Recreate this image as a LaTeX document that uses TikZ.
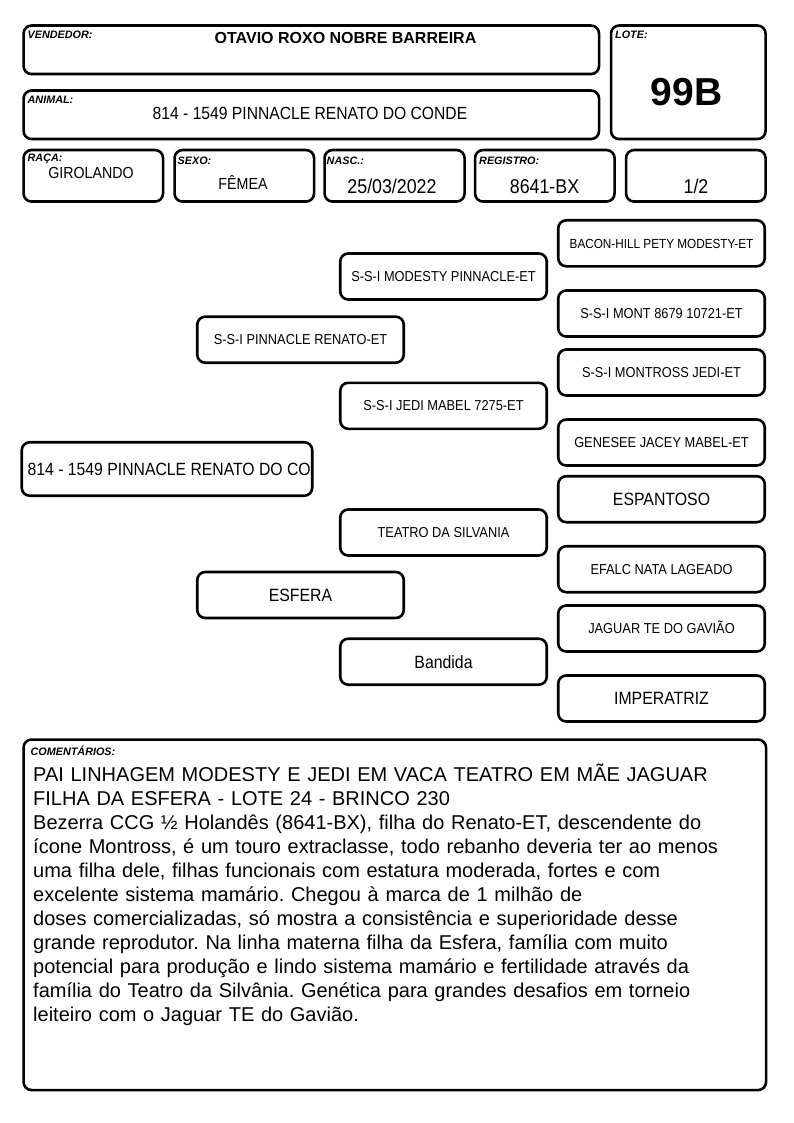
\documentclass[tikz,border=0pt]{standalone}
\usepackage{fontspec}
\setmainfont{Liberation Sans}
\newfontfamily\narrowfont[FakeStretch=0.89]{Liberation Sans}
\usepackage{xcolor}
\usepackage{tikz}
\usetikzlibrary{positioning}
\frenchspacing

\begin{document}
\begin{tikzpicture}[x=1pt, y=-1pt,
  box/.style={draw=black, line width=2.6pt, rounded corners=8pt,
    anchor=north west, inner sep=0pt},
  pedbox/.style={draw=black, line width=2.6pt, rounded corners=8pt,
    minimum width=206.5pt, minimum height=46pt, inner sep=0pt,
    align=center, text height=10.3pt, text depth=0pt,
    font=\narrowfont\fontsize{14.4}{16}\selectfont},
  bigped/.style={pedbox, text height=12.7pt,
    font=\narrowfont\fontsize{17.8}{20}\selectfont},
  lbl/.style={anchor=base west, inner sep=0pt,
    font=\fontsize{10.8}{12}\selectfont\bfseries\itshape},
  val/.style={anchor=base, inner sep=0pt,
    font=\narrowfont\fontsize{17.6}{20}\selectfont}
]
\useasboundingbox (0,0) rectangle (794,1123);

% header
\node[box, minimum width=575.5pt, minimum height=48.5pt] (vend) at (22.25,24.25) {};
\node[box, minimum width=154.5pt, minimum height=113.5pt] (lote) at (609.75,24.25) {};
\node[box, minimum width=575.5pt, minimum height=48.5pt] (animal) at (22.25,89.25) {};
\node[lbl] (vendlbl) at (27.5,39) {VENDEDOR:};
\node[anchor=base, inner sep=0pt, font=\fontsize{16}{18}\selectfont\bfseries]
  (vendname) at (345.5,43.3) {OTAVIO ROXO NOBRE BARREIRA};
\node[lbl] (lotelbl) at (615,38.7) {LOTE:};
\node[anchor=base, inner sep=0pt, font=\fontsize{39}{42}\selectfont\bfseries]
  (lotenum) at (686.7,105.3) {99B};
\node[lbl] (animallbl) at (27.5,104) {ANIMAL:};
\node[val] (animalname) at (310,119.3) {814 - 1549 PINNACLE RENATO DO CONDE};

% dados
\node[box, minimum width=139.5pt, minimum height=51.5pt] (raca) at (22.25,148.75) {};
\node[box, minimum width=139.5pt, minimum height=51.5pt] (sexo) at (173.25,148.75) {};
\node[box, minimum width=140pt, minimum height=51.5pt] (nasc) at (323.25,148.75) {};
\node[box, minimum width=139.5pt, minimum height=51.5pt] (reg) at (473.75,148.75) {};
\node[box, minimum width=139.5pt, minimum height=51.5pt] (pag) at (624.75,148.75) {};
\node[lbl] (racalbl) at (27.5,162) {RAÇA:};
\node[val, font=\narrowfont\fontsize{16}{18}\selectfont] (racaval) at (91,178.3) {GIROLANDO};
\node[lbl] (sexolbl) at (177.5,165) {SEXO:};
\node[val, font=\narrowfont\fontsize{16}{18}\selectfont] (sexoval) at (243,189.3) {FÊMEA};
\node[lbl] (nasclbl) at (326.5,165) {NASC.:};
\node[val, font=\narrowfont\fontsize{20}{22}\selectfont] (nascval) at (392,193.3) {25/03/2022};
\node[lbl] (reglbl) at (479,165) {REGISTRO:};
\node[val, font=\narrowfont\fontsize{20}{22}\selectfont] (regval) at (544.5,193.3) {8641-BX};
\node[val, font=\narrowfont\fontsize{20}{22}\selectfont] (pagval) at (696,193.3) {1/2};

% genealogia
\node[draw=black, line width=2.6pt, rounded corners=8pt, minimum width=290.5pt,
  minimum height=53.5pt] (filha) at (167,469) {};
\node[anchor=west, inner sep=0pt, text height=12.6pt, text depth=0pt,
  font=\narrowfont\fontsize{17.7}{20}\selectfont]
  (filhaname) at (27.5,469) {814 - 1549 PINNACLE RENATO DO CO};

\node[pedbox] (pai) at (300.5,339.7) {S-S-I PINNACLE RENATO-ET};
\node[bigped] (mae) at (300.5,595) {ESFERA};

\node[pedbox] (avopp) at (443.5,276.5) {S-S-I MODESTY PINNACLE-ET};
\node[pedbox] (avopm) at (443.5,405.8) {S-S-I JEDI MABEL 7275-ET};
\node[pedbox] (avomp) at (443.5,532.5) {TEATRO DA SILVANIA};
\node[bigped] (avomm) at (443.5,661.7) {Bandida};

\node[pedbox, text height=9.5pt, font=\narrowfont\fontsize{13.2}{15}\selectfont]
  (bis1) at (661.5,243.3) {BACON-HILL PETY MODESTY-ET};
\node[pedbox] (bis2) at (661.5,313.5) {S-S-I MONT 8679 10721-ET};
\node[pedbox] (bis3) at (661.5,372.5) {S-S-I MONTROSS JEDI-ET};
\node[pedbox] (bis4) at (661.5,442.5) {GENESEE JACEY MABEL-ET};
\node[bigped] (bis5) at (661.5,499.2) {ESPANTOSO};
\node[pedbox] (bis6) at (661.5,569.2) {EFALC NATA LAGEADO};
\node[pedbox] (bis7) at (661.5,628.5) {JAGUAR TE DO GAVIÃO};
\node[bigped] (bis8) at (661.5,698.5) {IMPERATRIZ};

% comentarios
\node[box, minimum width=742.5pt, minimum height=350.5pt] (coment) at (22.25,738.25) {};
\node[lbl] (comentlbl) at (30.5,755.7) {COMENTÁRIOS:};
\node[anchor=base west, inner sep=0pt, align=left, text width=735pt,
  font=\fontsize{20}{24}\selectfont] (comenttxt) at (33,781) {%
PAI LINHAGEM MODESTY E JEDI EM VACA TEATRO EM MÃE JAGUAR\\
FILHA DA ESFERA - LOTE 24 - BRINCO 230\\
Bezerra CCG ½ Holandês (8641-BX), filha do Renato-ET, descendente do\\
ícone Montross, é um touro extraclasse, todo rebanho deveria ter ao menos\\
uma filha dele, filhas funcionais com estatura moderada, fortes e com\\
excelente sistema mamário. Chegou à marca de 1 milhão de\\
doses~comercializadas, só mostra a consistência e superioridade desse\\
grande reprodutor. Na linha materna filha da Esfera, família com muito\\
potencial para produção e lindo sistema mamário e fertilidade através da\\
família do Teatro da Silvânia. Genética para grandes desafios em torneio\\
leiteiro com o Jaguar TE do Gavião.};
\end{tikzpicture}
\end{document}
